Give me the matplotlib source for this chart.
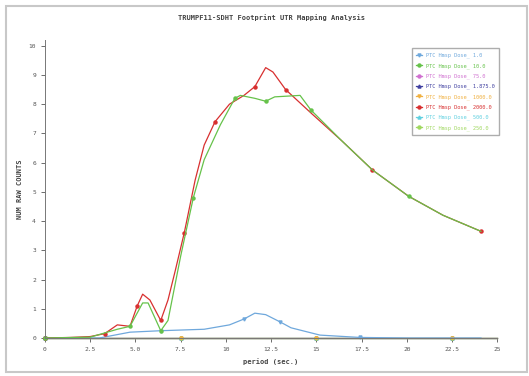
import matplotlib.pyplot as plt
import numpy as np
from matplotlib.patches import Rectangle

plt.rcParams['font.family'] = 'DejaVu Sans Mono'

# period (sec.) sample points for each series
red_x = [0, 1.4, 2.5, 3.3, 4.0, 4.7, 5.1, 5.4, 5.8, 6.4, 6.8, 7.2, 7.7, 8.3, 8.8, 9.4, 10.2, 11.0, 11.6,
         12.2, 12.6, 13.3, 14.7, 16.4, 18.1, 20.1, 22.0, 24.1]
red_y = [0.0, 0.02, 0.05, 0.15, 0.45, 0.4, 1.1, 1.5, 1.3, 0.6, 1.3, 2.3, 3.6, 5.4, 6.6, 7.4, 8.0, 8.3, 8.6,
         9.25, 9.1, 8.5, 7.7, 6.75, 5.75, 4.85, 4.2, 3.65]

green_x = [0, 2.5, 4.0, 4.7, 5.4, 5.7, 6.4, 6.8, 7.5, 8.2, 8.8, 9.7, 10.5, 10.8, 11.6, 12.2, 12.7, 14.1,
           14.7, 16.4, 18.1, 20.1, 22.0, 24.1]
green_y = [0.0, 0.03, 0.3, 0.4, 1.2, 1.2, 0.25, 0.6, 2.8, 4.8, 6.1, 7.3, 8.2, 8.3, 8.2, 8.1, 8.25, 8.3,
           7.8, 6.75, 5.75, 4.85, 4.2, 3.65]

blue_x = [0, 3.0, 4.7, 6.4, 8.8, 10.2, 11.0, 11.6, 12.2, 13.0, 13.6, 15.2, 17.4, 20.1, 24.1]
blue_y = [0.0, 0.0, 0.2, 0.25, 0.3, 0.45, 0.65, 0.85, 0.8, 0.55, 0.35, 0.1, 0.02, 0.0, 0.0]

flat_x = [0, 2.5, 5.0, 7.5, 10, 12.5, 15, 17.5, 20, 22.5, 25]
flat_y = [0] * len(flat_x)

labels = ['PTC Hmsp Dose_ 1.0', 'PTC Hmsp Dose_ 10.0', 'PTC Hmsp Dose_ 75.0',
          'PTC Hmsp Dose_ 1.875.0', 'PTC Hmsp Dose_ 1000.0', 'PTC Hmsp Dose_ 2000.0',
          'PTC Hmsp Dose_ 500.0', 'PTC Hmsp Dose_ 250.0']
colors = ['#6fa8dc', '#66c24a', '#d070d0', '#4040a0', '#f0b040', '#d83030', '#60d0e0', '#a0d860']
markers = ['v', 'o', 'o', '^', 'v', 'o', '^', 'o']

xticks = [0, 2.5, 5.0, 7.5, 10, 12.5, 15, 17.5, 20, 22.5, 25]
xtick_labels = ['0', '2.5', '5.0', '7.5', '10', '12.5', '15', '17.5', '20', '22.5', '25']
yticks = list(range(0, 11))

fig = plt.figure(figsize=(5.29, 3.76), dpi=100)
fig.patches.append(Rectangle((0.012, 0.01), 0.985, 0.975, transform=fig.transFigure,
                             fill=False, edgecolor='#c8c8c8', linewidth=1.5))
ax = fig.add_axes([0.085, 0.101, 0.855, 0.793])

series = [
    (blue_x, blue_y), (green_x, green_y), (flat_x, flat_y), (flat_x, flat_y),
    (flat_x, flat_y), (red_x, red_y), (flat_x, flat_y), (flat_x, flat_y),
]
order = [2, 3, 6, 7, 4, 0, 5, 1]
handles = {}
for i in order:
    xs, ys = series[i]
    h, = ax.plot(xs, ys, color=colors[i], linewidth=0.9, marker=markers[i],
                 markersize=2.2, markevery=3, label=labels[i], clip_on=False)
    handles[i] = h

ax.set_xlim(0, 25)
ax.set_ylim(0, 10.2)
ax.set_xticks(xticks)
ax.set_xticklabels(xtick_labels)
ax.set_yticks(yticks)
ax.tick_params(labelsize=4.5, length=3, width=0.6, colors='#555555')
for s in ['top', 'right']:
    ax.spines[s].set_visible(False)
for s in ['left', 'bottom']:
    ax.spines[s].set_color('#777777')
    ax.spines[s].set_linewidth(0.7)

ax.set_title('TRUMPF11-SDHT Footprint UTR Mapping Analysis', fontsize=5, fontweight='bold',
             color='#444444', pad=14)
ax.set_xlabel('period (sec.)', fontsize=5, color='#444444', fontweight='bold')
ax.set_ylabel('NUM RAW COUNTS', fontsize=5, color='#444444', fontweight='bold')

leg = ax.legend([handles[i] for i in range(8)], labels, loc='upper left',
                bbox_to_anchor=(0.805, 0.98), fontsize=3.8, frameon=True, fancybox=False,
                edgecolor='#999999', labelcolor='linecolor', handlelength=1.2,
                borderpad=0.8, labelspacing=0.9)

fig.savefig('out.png', dpi=100)
